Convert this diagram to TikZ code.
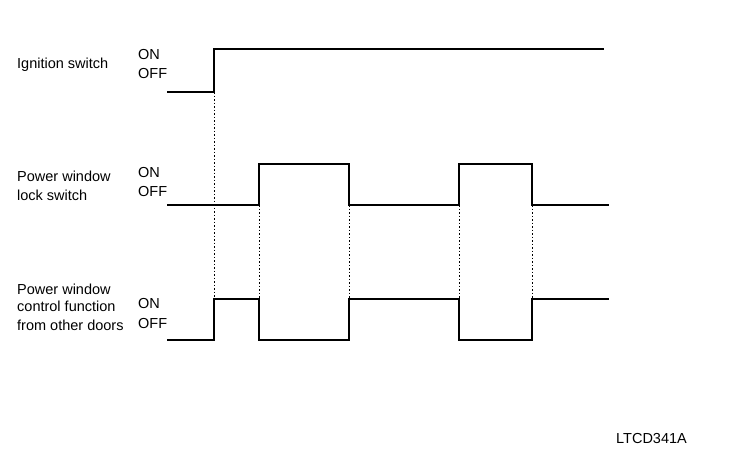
\documentclass[tikz,border=0pt]{standalone}
\usepackage{fontspec}
\setmainfont{Liberation Sans}
\usetikzlibrary{positioning}
\definecolor{ink}{HTML}{000000}

\begin{document}
\begin{tikzpicture}[x=1pt,y=-1pt,
    wave/.style={ink, line width=2.5pt, line join=miter},
    guide/.style={ink, line width=0.8pt, dash pattern=on 1.5pt off 2pt},
    lbl/.style={ink, anchor=base west, inner sep=0pt, font=\fontsize{14.5}{17}\selectfont}]
  \useasboundingbox (0,0) rectangle (736,464);
  % signal names
  \node[lbl] (ign) at (17,68) {Ignition switch};
  \node[lbl] (lockA) at (17,181) {Power window};
  \node[lbl] (lockB) at (17,200) {lock switch};
  \node[lbl] (ctrlA) at (17,294) {Power window};
  \node[lbl] (ctrlB) at (17,311) {control function};
  \node[lbl] (ctrlC) at (17,330) {from other doors};
  % levels
  \node[lbl] (ignOn) at (138,59) {ON};
  \node[lbl] (ignOff) at (138,78) {OFF};
  \node[lbl] (lockOn) at (138,177) {ON};
  \node[lbl] (lockOff) at (138,196) {OFF};
  \node[lbl] (ctrlOn) at (138,308) {ON};
  \node[lbl] (ctrlOff) at (138,328) {OFF};
  % timing guides
  \draw[guide] (214,92) -- (214,299);
  \foreach \t in {259,349,459,532}
    \draw[guide] (\t,205) -- (\t,299);
  % waveforms
  \draw[wave] (167,92) -- (214,92) -- (214,49) -- (604,49);
  \draw[wave] (167,205) -- (259,205) -- (259,164) -- (349,164) -- (349,205)
    -- (459,205) -- (459,164) -- (532,164) -- (532,205) -- (609,205);
  \draw[wave] (167,340) -- (214,340) -- (214,299) -- (259,299) -- (259,340)
    -- (349,340) -- (349,299) -- (459,299) -- (459,340) -- (532,340)
    -- (532,299) -- (609,299);
  \node[lbl] (code) at (616,443) {LTCD341A};
\end{tikzpicture}
\end{document}
